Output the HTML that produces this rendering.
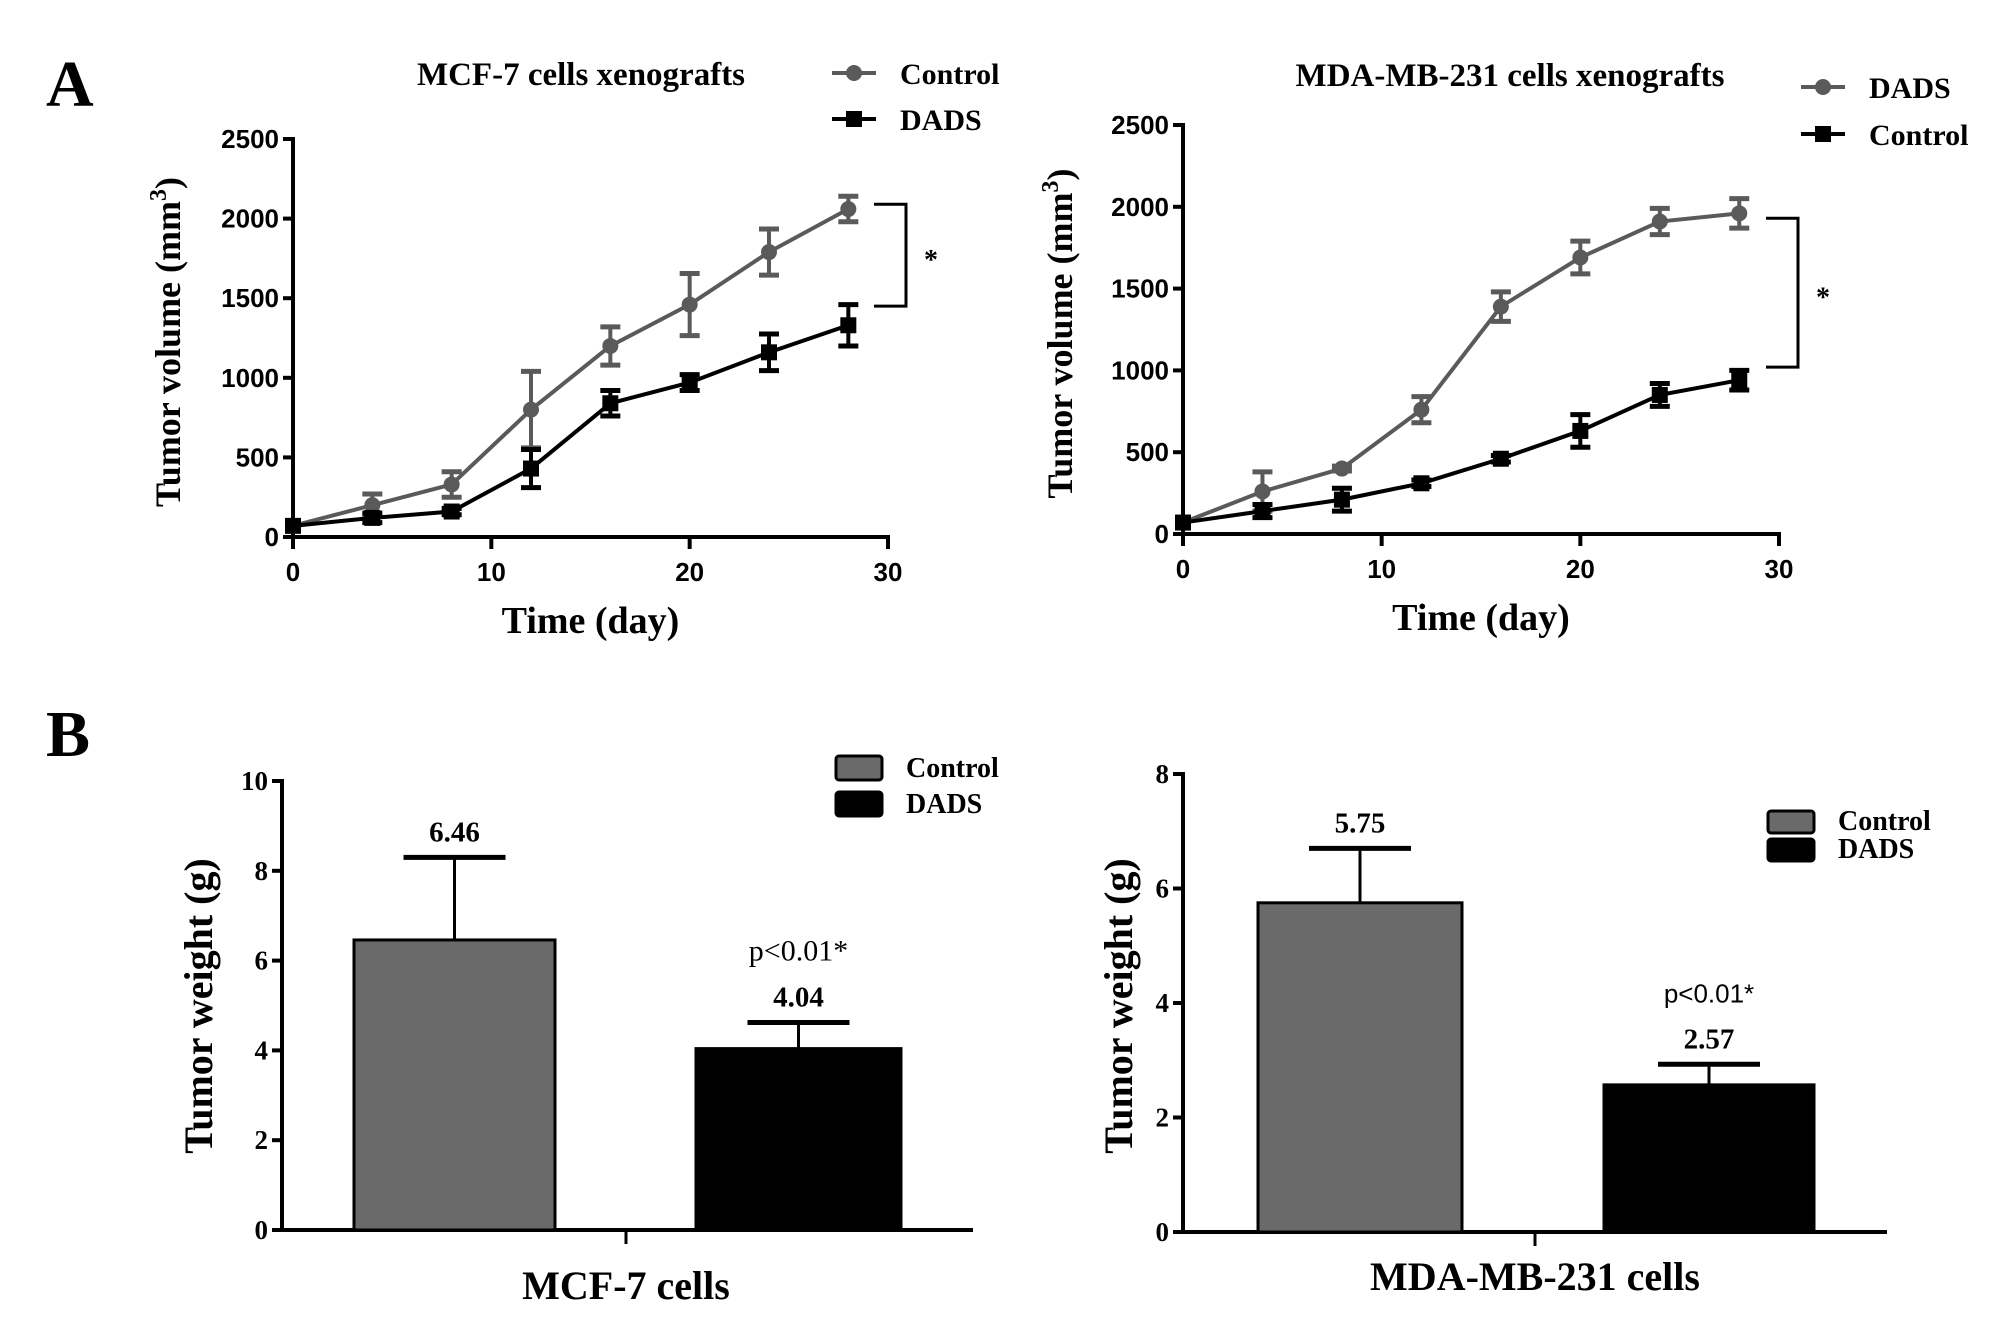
<!DOCTYPE html>
<html><head><meta charset="utf-8"><style>
html,body{margin:0;padding:0;background:#fff;overflow:hidden;}
svg{display:block;}
.serif{font-family:"Liberation Serif",serif;font-weight:bold;}
.sans{font-family:"Liberation Sans",sans-serif;font-weight:bold;}
</style></head><body>
<svg id="fig" width="2008" height="1330" viewBox="0 0 2008 1330" xmlns="http://www.w3.org/2000/svg"></svg>
<script>
// ---- Data ----
const days = [0,4,8,12,16,20,24,28];
const mcfControl = [70,200,330,800,1200,1460,1790,2060];
const mcfControlErr = [0,70,80,240,120,195,145,80];
const mcfDads = [70,120,160,430,840,970,1160,1330];
const mcfDadsErr = [0,30,20,120,80,50,115,130];
const mdaDads = [70,260,400,760,1390,1690,1910,1960];
const mdaDadsErr = [0,120,15,80,90,100,80,90];
const mdaControl = [70,140,210,310,460,630,850,940];
const mdaControlErr = [0,40,70,20,20,100,70,60];
const volTicks = [0,500,1000,1500,2000,2500];
const dayTicks = [0,10,20,30];
const barGroups = ["Control","DADS"];
const mcfWeights = [6.46,4.04];
const mcfWeightErr = [1.84,0.58];
const mdaWeights = [5.75,2.57];
const mdaWeightErr = [0.95,0.36];
const mcfWeightTicks = [0,2,4,6,8,10];
const mdaWeightTicks = [0,2,4,6,8];

const NS="http://www.w3.org/2000/svg";
const svg=document.getElementById('fig');
function el(tag,attrs,parent,text){
  const e=document.createElementNS(NS,tag);
  for(const k in attrs) e.setAttribute(k,attrs[k]);
  if(text!==undefined) e.textContent=text;
  (parent||svg).appendChild(e);
  return e;
}
const GRAY="#5a5a5a", BLK="#000";

function lineChart(o){
  const g=el('g',{});
  
  
  const X=v=>o.x0+(v/30)*(o.x1-o.x0);
  const Y=v=>o.y0-(v/2500)*(o.y0-o.y1);
  const ya=el('line',{x1:o.x0,y1:o.y0+2,x2:o.x0,y2:o.y1-2,stroke:'#000','stroke-width':4},g);
  
  const xa=el('line',{x1:o.x0-2,y1:o.y0,x2:o.x1+2,y2:o.y0,stroke:'#000','stroke-width':4},g);
  
  volTicks.forEach(t=>{
    el('line',{x1:o.x0-10,y1:Y(t),x2:o.x0,y2:Y(t),stroke:'#000','stroke-width':4},g);
    const tl=el('text',{x:o.x0-14,y:Y(t)+9,'text-anchor':'end','font-size':26,class:'sans'},g,String(t));
    
  });
  dayTicks.forEach(t=>{
    el('line',{x1:X(t),y1:o.y0,x2:X(t),y2:o.y0+12,stroke:'#000','stroke-width':4},g);
    const tl=el('text',{x:X(t),y:o.y0+44,'text-anchor':'middle','font-size':26,class:'sans'},g,String(t));
    
  });
  const xt=el('text',{x:(o.x0+o.x1)/2,y:o.y0+96,'text-anchor':'middle','font-size':38,class:'serif'},g,'Time (day)');
  
  const yt=el('text',{x:0,y:0,'text-anchor':'middle','font-size':36,class:'serif',transform:`translate(${o.ytx},${(o.y0+o.y1)/2+4}) rotate(-90)`},g);
  
  el('tspan',{},yt,'Tumor volume (mm');
  el('tspan',{dy:-14,'font-size':24},yt,'3');
  el('tspan',{dy:14},yt,')');
  const tt=el('text',{x:o.titleX,y:o.titleY,'text-anchor':'middle','font-size':33,class:'serif'},g,o.title);
  
  o.series.forEach(s=>{
    const sg=el('g',{},g);
    
    
    const pts=days.map((d,i)=>X(d)+','+Y(s.vals[i])).join(' ');
    el('polyline',{points:pts,fill:'none',stroke:s.color,'stroke-width':4},sg);
    days.forEach((d,i)=>{
      const v=s.vals[i],e=s.err[i];
      if(e>0){
        el('line',{x1:X(d),y1:Y(v+e),x2:X(d),y2:Y(v-e),stroke:s.color,'stroke-width':4},sg);
        el('line',{x1:X(d)-10,y1:Y(v+e),x2:X(d)+10,y2:Y(v+e),stroke:s.color,'stroke-width':5},sg);
        el('line',{x1:X(d)-10,y1:Y(v-e),x2:X(d)+10,y2:Y(v-e),stroke:s.color,'stroke-width':5},sg);
      }
      let m;
      if(s.marker==='circle') m=el('circle',{cx:X(d),cy:Y(v),r:8,fill:s.color},sg);
      else m=el('rect',{x:X(d)-8,y:Y(v)-8,width:16,height:16,fill:s.color},sg);
      
    });
    const lg=el('g',{},g);
    
    
    el('line',{x1:o.legX,y1:s.legY,x2:o.legX+44,y2:s.legY,stroke:s.color,'stroke-width':4},lg);
    if(s.marker==='circle') el('circle',{cx:o.legX+22,cy:s.legY,r:8,fill:s.color},lg);
    else el('rect',{x:o.legX+14,y:s.legY-8,width:16,height:16,fill:s.color},lg);
    el('text',{x:o.legX+68,y:s.legY+11,'font-size':30,class:'serif'},lg,s.label);
  });
  const b=o.bracket;
  const br=el('polyline',{points:`${b.x},${Y(b.top)} ${b.x+32},${Y(b.top)} ${b.x+32},${Y(b.bot)} ${b.x},${Y(b.bot)}`,fill:'none',stroke:'#000','stroke-width':3},g);
  
  el('text',{x:b.x+50,y:(Y(b.top)+Y(b.bot))/2+14,'font-size':28,class:'serif','font-weight':'normal'},g,'*');
}

lineChart({name:'mcf7-volume-chart',x0:293,x1:888,y0:537,y1:139,ytx:180,title:'MCF-7 cells xenografts',titleX:581,titleY:85,legX:832,
  bracket:{x:874,top:2090,bot:1450},
  series:[{label:'Control',vals:mcfControl,err:mcfControlErr,color:GRAY,marker:'circle',legY:73},
          {label:'DADS',vals:mcfDads,err:mcfDadsErr,color:BLK,marker:'square',legY:119}]});
lineChart({name:'mda231-volume-chart',x0:1183,x1:1779,y0:534,y1:125,ytx:1072,title:'MDA-MB-231 cells xenografts',titleX:1510,titleY:86,legX:1801,
  bracket:{x:1766,top:1930,bot:1020},
  series:[{label:'DADS',vals:mdaDads,err:mdaDadsErr,color:GRAY,marker:'circle',legY:87},
          {label:'Control',vals:mdaControl,err:mdaControlErr,color:BLK,marker:'square',legY:134}]});

function barChart(o){
  const g=el('g',{});
  
  
  const max=o.ticks[o.ticks.length-1];
  const Y=v=>o.y0-(v/max)*(o.y0-o.y1);
  const ya=el('line',{x1:o.x0,y1:o.y0+2,x2:o.x0,y2:o.y1-2,stroke:'#000','stroke-width':4},g);
  
  const xa=el('line',{x1:o.x0-2,y1:o.y0,x2:o.x1,y2:o.y0,stroke:'#000','stroke-width':4},g);
  
  o.ticks.forEach(t=>{
    el('line',{x1:o.x0-10,y1:Y(t),x2:o.x0,y2:Y(t),stroke:'#000','stroke-width':4},g);
    const tl=el('text',{x:o.x0-14,y:Y(t)+9,'text-anchor':'end','font-size':27,class:'serif'},g,String(t));
    
  });
  el('line',{x1:o.cx,y1:o.y0,x2:o.cx,y2:o.y0+14,stroke:'#000','stroke-width':3},g);
  const xt=el('text',{x:o.cx,y:o.xtY,'text-anchor':'middle','font-size':40,class:'serif'},g,o.xlabel);
  
  const yt=el('text',{x:0,y:0,'text-anchor':'middle','font-size':40,class:'serif',transform:`translate(${o.ytx},${o.ytY}) rotate(-90)`},g,'Tumor weight (g)');
  
  const fills=['#6a6a6a','#000'];
  barGroups.forEach((grp,i)=>{
    const bx=o.bars[i][0], bw=o.bars[i][1]-o.bars[i][0], mid=bx+bw/2;
    const v=o.vals[i], e=o.err[i];
    el('line',{x1:mid,y1:Y(v),x2:mid,y2:Y(v+e),stroke:'#000','stroke-width':3},g);
    el('line',{x1:mid-51,y1:Y(v+e),x2:mid+51,y2:Y(v+e),stroke:'#000','stroke-width':5},g);
    const r=el('rect',{x:bx,y:Y(v),width:bw,height:Y(0)-Y(v),fill:fills[i],stroke:'#000','stroke-width':3},g);
    
    const vl=el('text',{x:mid,y:Y(v+e)-16,'text-anchor':'middle','font-size':29,class:'serif'},g,v.toFixed(2));
    
    if(i===1){
      const p=el('text',{x:mid,y:Y(v+e)-62,'text-anchor':'middle','font-size':o.pSans?26:30,
        'font-family':o.pSans?'"Liberation Sans",sans-serif':'"Liberation Serif",serif'},g,'p<0.01*');
      
    }
    const lg=el('g',{},g);
    
    
    el('rect',{x:o.legX,y:o.legY+i*o.legGap,width:46,height:o.legH,rx:3,fill:fills[i],stroke:'#000','stroke-width':3},lg);
    el('text',{x:o.legX+70,y:o.legY+i*o.legGap+o.legH-3,'font-size':28,class:'serif'},lg,grp);
  });
}
barChart({name:'mcf7-weight-chart',x0:282,x1:973,y0:1230,y1:781,ytx:212,ytY:1006,cx:626,xtY:1299,xlabel:'MCF-7 cells',
  ticks:mcfWeightTicks,vals:mcfWeights,err:mcfWeightErr,bars:[[354,555],[696,901]],legX:836,legY:756,legGap:36,legH:24,pSans:false});
barChart({name:'mda231-weight-chart',x0:1183,x1:1887,y0:1232,y1:774,ytx:1132,ytY:1006,cx:1535,xtY:1290,xlabel:'MDA-MB-231 cells',
  ticks:mdaWeightTicks,vals:mdaWeights,err:mdaWeightErr,bars:[[1258,1462],[1604,1814]],legX:1768,legY:811,legGap:28,legH:22,pSans:true});

const A=el('text',{x:46,y:106,'font-size':66,class:'serif'},svg,'A');

const B=el('text',{x:46,y:756,'font-size':66,class:'serif'},svg,'B');

</script>
</body></html>
